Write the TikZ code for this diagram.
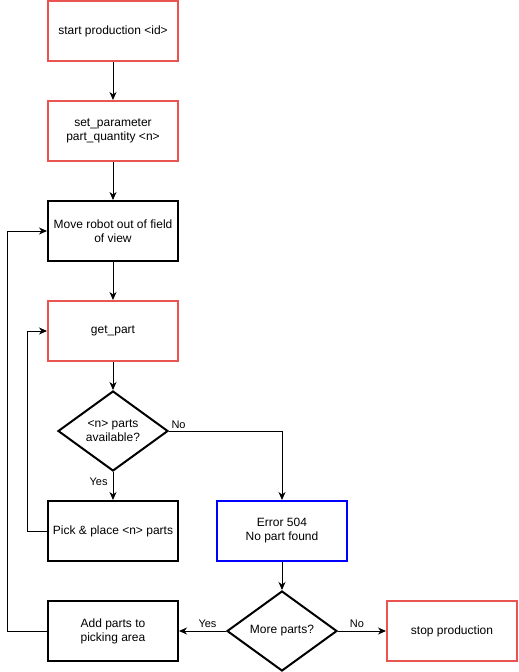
\documentclass[tikz,border=0pt]{standalone}
\usepackage{fontspec}
\setmainfont{Liberation Sans}
\usetikzlibrary{shapes.geometric,arrows.meta}
\definecolor{redb}{RGB}{234,84,80}
\definecolor{blueb}{RGB}{0,0,255}
\tikzset{
  box/.style={rectangle, draw=black, line width=2pt, minimum width=130pt, minimum height=60pt, inner sep=2pt, align=center, font=\fontsize{12}{14}\selectfont},
  redbox/.style={box, draw=redb},
  bluebox/.style={box, draw=blueb},
  dec/.style={diamond, draw=black, line width=2pt, minimum width=110pt, minimum height=80pt, aspect=1.375, inner sep=0pt, align=center, font=\fontsize{12}{14}\selectfont},
  conn/.style={line width=1pt, -{Stealth[length=8pt,width=7pt,inset=2.5pt]}},
  lbl/.style={font=\fontsize{11}{13}\selectfont, inner sep=1pt}
}
\begin{document}
\begin{tikzpicture}[x=1pt,y=-1pt]
\useasboundingbox (0,0) rectangle (519,672);
\node[redbox] (b1) at (113,31) {start production <id>};
\node[redbox] (b2) at (113,131) {set\_parameter\\part\_quantity <n>};
\node[box] (b3) at (113,231) {Move robot out of field\\of view};
\node[redbox] (b4) at (113,331) {get\_part};
\node[dec] (d1) at (113,431) {<n> parts\\available?};
\node[box] (pick) at (113,531) {Pick \& place <n> parts};
\node[bluebox] (err) at (282,531) {Error 504\\No part found};
\node[dec] (d2) at (282,631) {More parts?};
\node[box] (add) at (113,631) {Add parts to\\picking area};
\node[redbox] (stop) at (452,631) {stop production};

\draw[conn] (b1) -- (b2);
\draw[conn] (b2) -- (b3);
\draw[conn] (b3) -- (b4);
\draw[conn] (b4) -- (d1);
\draw[conn] (d1) -- (pick) node[lbl, pos=0.35, left=4pt] (ly1) {Yes};
\draw[conn] (d1.east) -| (err.north) node[lbl, pos=0.0, anchor=south west, xshift=1pt, yshift=1pt] (ln1) {No};
\draw[conn] (pick.west) -- ++(-20,0) |- (b4.west);
\draw[conn] (err) -- (d2);
\draw[conn] (d2.west) -- (add.east) node[lbl, midway, above=2pt, xshift=5pt] (ly2) {Yes};
\draw[conn] (d2.east) -- (stop.west) node[lbl, midway, above=2pt, xshift=-5pt] (ln2) {No};
\draw[conn] (add.west) -- ++(-40,0) |- (b3.west);
\end{tikzpicture}
\end{document}
